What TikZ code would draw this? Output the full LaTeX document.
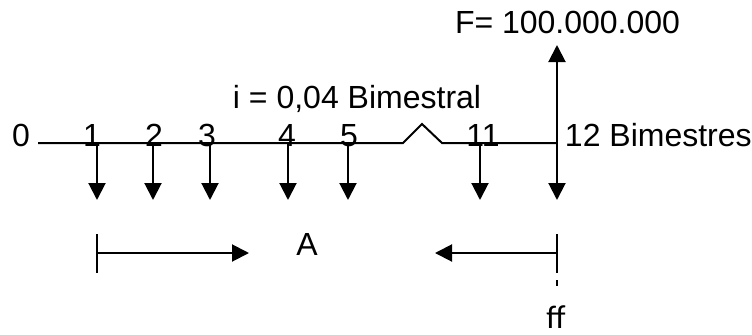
\documentclass[tikz,border=0pt]{standalone}
\usepackage{fontspec}
\setmainfont{Liberation Sans}
\newfontfamily\calibrifont{Carlito}
\usetikzlibrary{arrows.meta}

\begin{document}
\begin{tikzpicture}[x=0.5pt, y=-0.5pt, line width=1pt,
    flecha/.style={-{Triangle[width=8.5pt, length=8.5pt]}},
    etiqueta/.style={anchor=base, inner sep=0pt, font=\fontsize{16}{19}\selectfont}]
    \useasboundingbox (0,0) rectangle (752,334);

    % eje del tiempo con el corte
    \coordinate (t0) at (38,143);
    \coordinate (c1) at (403,143);
    \coordinate (c2) at (422,124);
    \coordinate (c3) at (442,143);
    \coordinate (t12) at (557,143);
    \draw (t0) -- (c1) -- (c2) -- (c3) -- (t12);

    % periodos
    \node[etiqueta] (n0) at (21,146) {0};
    \node[etiqueta] (n1) at (92,146) {1};
    \node[etiqueta] (n2) at (154,146) {2};
    \node[etiqueta] (n3) at (207,146) {3};
    \node[etiqueta] (n4) at (287,146) {4};
    \node[etiqueta] (n5) at (349,146) {5};
    \node[etiqueta] (n11) at (483,146) {11};
    \node[etiqueta, anchor=base west] (n12) at (564,146) {12 Bimestres};
    \node[etiqueta, anchor=base west] (tasa) at (232,108) {i = 0,04 Bimestral};

    % pagos
    \coordinate (t1) at (97,143);   \coordinate (p1) at (97,200);
    \coordinate (t2) at (153,143);  \coordinate (p2) at (153,200);
    \coordinate (t3) at (210,143);  \coordinate (p3) at (210,200);
    \coordinate (t4) at (288,143);  \coordinate (p4) at (288,200);
    \coordinate (t5) at (348,143);  \coordinate (p5) at (348,200);
    \coordinate (t11) at (480,143); \coordinate (p11) at (480,200);
    \coordinate (p12) at (557,200);
    \draw[flecha] (t1) -- (p1);
    \draw[flecha] (t2) -- (p2);
    \draw[flecha] (t3) -- (p3);
    \draw[flecha] (t4) -- (p4);
    \draw[flecha] (t5) -- (p5);
    \draw[flecha] (t11) -- (p11);
    \draw[flecha] (t12) -- (p12);

    % valor futuro
    \coordinate (f) at (557,45);
    \draw[flecha] (t12) -- (f);
    \node[etiqueta, anchor=base west] (vf) at (454,33) {F= 100.000.000};

    % anualidad A
    \coordinate (a1) at (97,234);  \coordinate (a2) at (97,273);
    \coordinate (a3) at (97,253);  \coordinate (a4) at (249,253);
    \draw (a1) -- (a2);
    \draw[flecha] (a3) -- (a4);
    \node[etiqueta] (A) at (307,255) {A};

    \coordinate (b1) at (557,234); \coordinate (b2) at (557,273);
    \coordinate (b3) at (557,253); \coordinate (b4) at (435,253);
    \coordinate (b5) at (557,280); \coordinate (b6) at (557,286);
    \draw (b1) -- (b2);
    \draw (b5) -- (b6);
    \draw[flecha] (b3) -- (b4);
    \node[etiqueta, font=\fontsize{16.5}{19}\calibrifont] (ff) at (556,328) {ff};
\end{tikzpicture}
\end{document}
